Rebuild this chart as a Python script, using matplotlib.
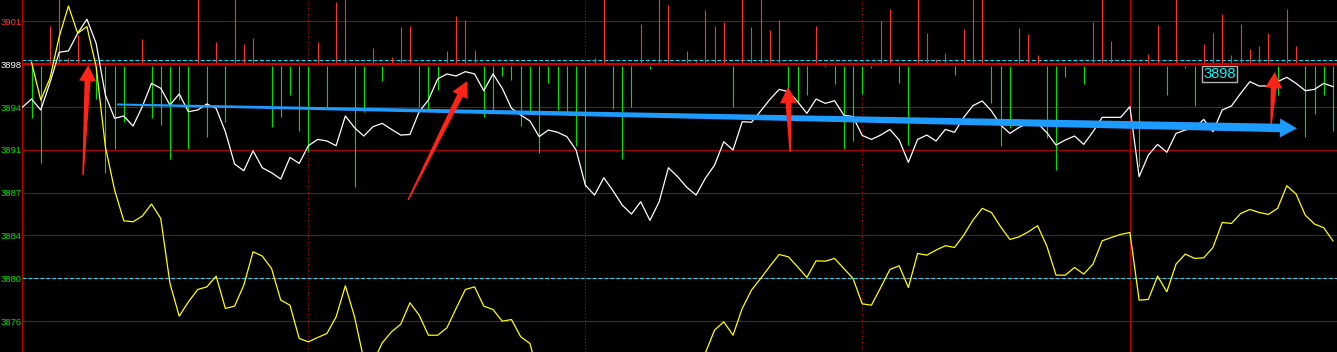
import numpy as np
import matplotlib
matplotlib.use('Agg')
import matplotlib.pyplot as plt
from matplotlib.patches import Polygon
import matplotlib.transforms as mtransforms

# price axis: grid levels and their labels
grid_levels = [3901.25, 3897.7, 3894.15, 3890.6, 3887.05, 3883.5, 3879.95, 3876.4]
grid_labels = ['3901', '3898', '3894', '3891', '3887', '3884', '3880', '3876']
label_colors = ['#ff3c3c', '#ffffff', '#00e000', '#00e000', '#00e000',
                '#00e000', '#00e000', '#00e000']
base_level = 3897.7
cyan_levels = [3898.03, 3880.0]
dotted_minutes = [31, 61, 91]
break_minute = 120

# weighted index (white), minute 0..142
white = [3894.13, 3894.82, 3893.91, 3896.18, 3898.70, 3898.81, 3900.27, 3901.44,
         3899.44, 3895.15, 3893.22, 3893.41, 3892.58, 3894.19, 3896.12, 3895.71,
         3894.32, 3895.24, 3893.77, 3893.91, 3894.41, 3894.05, 3892.11, 3889.43,
         3888.87, 3890.53, 3889.12, 3888.71, 3888.18, 3889.98, 3889.48, 3890.95,
         3891.47, 3891.34, 3890.95, 3893.41, 3892.44, 3891.75, 3892.53, 3892.80,
         3892.30, 3891.83, 3891.88, 3893.77, 3894.74, 3896.48, 3896.90, 3896.73,
         3897.09, 3896.90, 3895.51, 3896.90, 3895.71, 3894.05, 3893.49, 3893.00,
         3891.70, 3892.25, 3892.06, 3891.70, 3890.59, 3887.68, 3886.85, 3888.29,
         3887.21, 3886.02, 3885.28, 3886.30, 3884.75, 3886.30, 3889.12, 3888.38,
         3887.49, 3886.85, 3888.24, 3889.34, 3891.28, 3890.59, 3892.94, 3892.89,
         3893.83, 3894.79, 3895.62, 3895.43, 3894.60, 3893.63, 3894.82, 3894.46,
         3894.68, 3893.49, 3893.36, 3891.80, 3891.47, 3891.83, 3892.30, 3891.42,
         3889.57, 3891.47, 3891.83, 3891.34, 3892.30, 3892.06, 3893.30, 3894.27,
         3894.66, 3893.83, 3892.66, 3891.97, 3892.47, 3892.80, 3892.80, 3892.03,
         3891.00, 3891.42, 3891.75, 3891.06, 3892.11, 3893.30, 3893.30, 3893.30,
         3894.19, 3888.38, 3890.17, 3891.06, 3890.40, 3891.97, 3892.25, 3892.40,
         3893.13, 3892.11, 3893.91, 3894.24, 3895.29, 3896.26, 3895.90, 3895.90,
         3896.26, 3896.62, 3896.12, 3895.51, 3895.62, 3896.12, 3895.85]

# unweighted index (yellow), minute 1..142
yellow = [3897.87, 3894.74, 3896.54, 3900.00, 3902.54, 3900.27, 3900.83, 3897.50,
          3890.87, 3887.27, 3884.72, 3884.64, 3885.11, 3886.11, 3884.92, 3879.52,
          3876.81, 3878.00, 3879.02, 3879.24, 3880.13, 3877.45, 3877.64, 3879.38,
          3882.15, 3881.79, 3880.77, 3878.14, 3877.72, 3874.96, 3874.68, 3875.04,
          3875.37, 3876.75, 3879.33, 3876.75, 3873.20, 3873.00, 3874.60, 3875.51,
          3876.14, 3877.92, 3876.89, 3875.23, 3875.23, 3875.84, 3877.45, 3879.02,
          3879.24, 3877.64, 3877.36, 3876.39, 3876.53, 3875.10, 3874.54, 3871.70,
          3872.20, 3872.00, 3871.60, 3870.60, 3868.00, 3867.30, 3868.60, 3867.70,
          3866.60, 3866.00, 3867.00, 3865.60, 3867.00, 3869.50, 3869.00, 3868.20,
          3868.00, 3873.75, 3875.65, 3876.34, 3875.23, 3877.45, 3878.97, 3879.94,
          3880.96, 3881.93, 3881.73, 3880.90, 3880.02, 3881.40, 3881.37, 3881.60,
          3880.77, 3879.94, 3877.83, 3877.72, 3879.19, 3880.68, 3880.99, 3879.19,
          3882.01, 3881.87, 3882.29, 3882.65, 3882.51, 3883.53, 3884.78, 3885.75,
          3885.41, 3884.22, 3883.17, 3883.39, 3883.81, 3884.31, 3882.62, 3880.21,
          3880.21, 3880.85, 3880.30, 3881.13, 3883.06, 3883.34, 3883.59, 3883.75,
          3878.14, 3878.20, 3880.13, 3878.83, 3881.13, 3881.96, 3881.60, 3881.65,
          3882.51, 3884.58, 3884.50, 3885.33, 3885.66, 3885.41, 3885.25, 3885.75,
          3887.63, 3886.94, 3885.19, 3884.45, 3884.14, 3883.06]

# buy/sell strength bars, minute 0..142 (positive red, negative green)
strength = [0, -4.48, -8.16, 3.18, 6.0, 0.5, 2.43, 0, -2.88, -8.99, -7.06, -4.76,
            0, 2.1, -4.48, -5.04, -7.86, -2.96, -7.06, 6.0, -6.06, 1.85, -4.76,
            6.0, 1.69, 2.19, 0.22, -5.17, -4.34, -2.55, -5.51, -7.25, 1.85, -3.65,
            5.17, 6.0, -10.21, -3.93, 1.33, -1.36, 0.64, 3.13, 3.21, -3.51, -3.79,
            -2.13, 1.11, 4.01, 3.68, 1.19, -4.40, -3.79, -0.97, -1.30, -5.12,
            -3.85, -7.33, -1.52, -3.79, -3.93, -6.78, -10.15, 0.5, 6.0, -3.68,
            -7.86, -3.51, 3.35, -0.39, 6.0, 4.93, 0, 1.11, 0.28, 4.51, 3.18, 3.54,
            -3.51, 6.0, 3.13, 6.0, 2.85, 3.68, -2.68, -3.18, -2.55, 3.18, -0.19,
            -1.63, -7.06, -6.34, -2.46, -0.28, 3.6, 4.59, -1.52, -6.70, 6.0, 2.63,
            0.42, 0.97, -0.89, 2.93, 6.0, 6.0, -3.18, -6.75, -5.26, 3.04, 2.55,
            0.77, -6.09, -8.77, -1.02, 0.14, -1.63, 3.54, 6.0, 1.94, 0, 0, -8.49,
            0.86, 3.27, -2.55, 6.0, -0.28, -3.46, 1.69, 2.63, 4.18, 0.77, 3.35,
            1.25, 1.52, 2.63, -2.55, 4.59, 1.52, -6.0, -4.12, -2.55, -5.51]

# hand drawn markers: (tail, tip) in (minute, price)
red_arrows = [((6.58, 3888.52), (7.15, 3897.64)),
              ((41.8, 3886.45), (48.2, 3896.31)),
              ((83.2, 3890.42), (82.96, 3895.81)),
              ((135.3, 3892.75), (135.7, 3897.06))]
blue_arrow = ((10.26, 3894.37), (138.1, 3892.39))
price_tag = (129.7, 3896.9, '3898')


def tapered_arrow(ax, tail, tip, tail_w, shaft_w, head_w, head_len, color):
    p0 = ax.transData.transform(tail)
    p1 = ax.transData.transform(tip)
    u = (p1 - p0) / np.hypot(*(p1 - p0))
    n = np.array([-u[1], u[0]])
    hb = p1 - head_len * u
    pts = [p0 + n * tail_w / 2, hb + n * shaft_w / 2, hb + n * head_w / 2, p1,
           hb - n * head_w / 2, hb - n * shaft_w / 2, p0 - n * tail_w / 2]
    ax.add_patch(Polygon(pts, closed=True, facecolor=color, edgecolor='none',
                         transform=mtransforms.IdentityTransform(), clip_on=False,
                         zorder=6))


W, H = 1337, 352
fig = plt.figure(figsize=(W / 100, H / 100), dpi=100, facecolor='black')
left = 22.3 / W
ax = fig.add_axes([left, 0, 1 - left, 1], facecolor='black')

px_per_min = 9.23
ax.set_xlim(0, (W - 22.3) / px_per_min)
px_per_unit = 42.8 / 3.55
ax.set_ylim(base_level - (H - 64.3) / px_per_unit, base_level + 64.3 / px_per_unit)

for lv in grid_levels:
    if lv == base_level:
        continue
    ax.axhline(lv, color='#a80000', lw=0.75, zorder=1)
for lv in cyan_levels:
    ax.axhline(lv, color='#00e5ff', lw=0.75, ls=(0, (3.8, 1.9)), zorder=2)
ax.axhline(base_level, color='#d00000', lw=1.6, zorder=3)
for m in dotted_minutes:
    ax.axvline(m, color='#c00000', lw=0.75, ls=(0, (1, 2)), zorder=1)
ax.axvline(break_minute, color='#c00000', lw=0.75, zorder=1)

mins = np.arange(len(white))
s = np.array(strength)
up = s > 0
dn = s < 0
ax.vlines(mins[up], base_level + 0.1, base_level + s[up], color='#ff3232',
          lw=0.8, zorder=2)
ax.vlines(mins[dn], base_level - 0.1, base_level + s[dn], color='#00e000',
          lw=0.8, zorder=2)

ax.plot(mins, white, color='white', lw=0.9, zorder=4)
ax.plot(np.arange(1, len(yellow) + 1), yellow, color='#ffff00', lw=0.9, zorder=4)

for sp in ['top', 'right', 'bottom']:
    ax.spines[sp].set_visible(False)
ax.spines['left'].set_color('#c00000')
ax.spines['left'].set_linewidth(0.9)
ax.set_xticks([])
ax.set_yticks(grid_levels)
ax.set_yticklabels(grid_labels, fontfamily=['Liberation Sans', 'DejaVu Sans'],
                   fontsize=6.8)
for lab, c in zip(ax.get_yticklabels(), label_colors):
    lab.set_color(c)
ax.tick_params(axis='y', length=0, pad=0.6)

tapered_arrow(ax, blue_arrow[0], blue_arrow[1], 2, 8.5, 19, 17, '#1e9bff')
for tail, tip in red_arrows:
    tapered_arrow(ax, tail, tip, 1.5, 6, 17, 16, '#ff2418')

ax.text(price_tag[0], price_tag[1], price_tag[2], color='#00ffff', fontsize=10.5,
        fontfamily=['Liberation Sans', 'DejaVu Sans'], ha='center',
        va='center', zorder=7,
        bbox=dict(facecolor='black', edgecolor='#b0b0b0', lw=1,
                  boxstyle='square,pad=0.08'))

fig.savefig('out.png', dpi=100, facecolor='black')
